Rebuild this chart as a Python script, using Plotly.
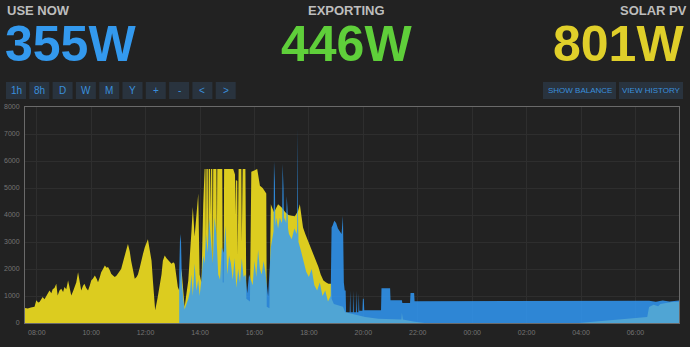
import plotly.graph_objects as go
from datetime import datetime, timedelta

# ---------------- data ----------------
header_labels = ["USE NOW", "EXPORTING", "SOLAR PV"]
header_values = ["355W", "446W", "801W"]
left_buttons = ["1h", "8h", "D", "W", "M", "Y", "+", "-", "<", ">"]
right_buttons = ["SHOW BALANCE", "VIEW HISTORY"]

solar_time = ["07:34","07:40","07:47","07:55","07:59","08:03","08:06","08:10","08:13","08:17","08:21","08:25",
              "08:28","08:32","08:35","08:39","08:43","08:46","08:50","08:54","08:58","09:01","09:05","09:09",
              "09:12","09:16","09:20","09:23","09:27","09:31","09:34","09:38","09:42","09:45","09:49","09:53",
              "09:57","10:00","10:04","10:08","10:12","10:15","10:19","10:22","10:26","10:30","10:34","10:37",
              "10:41","10:44","10:48","10:52","10:56","10:59","11:03","11:06","11:10","11:14","11:18","11:21",
              "11:25","11:28","11:32","11:36","11:40","11:43","11:47","11:50","11:54","11:58","12:02","12:05",
              "12:09","12:13","12:16","12:21","12:26","12:31","12:35","12:38","12:42","12:46","12:49","12:53",
              "12:57","13:01","13:04","13:08","13:11","13:14","13:19","13:26","13:34","13:41","13:44","13:48",
              "13:52","13:56","13:59","14:03","14:07","14:10","14:12","14:13","14:14","14:17","14:18","14:19",
              "14:22","14:23","14:24","14:27","14:28","14:29","14:36","14:37","14:38","14:49","14:50","14:52",
              "14:53","15:13","15:15","15:17","15:18","15:19","15:22","15:23","15:25","15:31","15:32","15:34",
              "15:40","15:42","15:50","15:53","16:06","16:08","16:12","16:18","16:23","16:26","16:27","16:33",
              "16:36","16:38","16:43","16:52","17:00","17:08","17:15","17:22","17:29","17:36","17:40","17:44",
              "17:47","17:52","17:58","18:03","18:09","18:15","18:21","18:26","18:32","18:38","18:43","18:49",
              "18:50","18:55","19:05","19:15","19:20","19:42","20:04","20:33","21:10","21:24","21:25","21:27",
              "21:50","22:15","03:55","06:26","06:30","06:35","06:40","06:45","06:50","06:55","07:00","07:05",
              "07:12","07:20","07:28","07:36"]
solar_w = [560,540,570,600,840,760,780,900,960,880,1000,1120,
           1200,1100,1250,1300,1450,1020,1200,1270,1150,1330,1250,1575,
           1300,1020,1180,1330,1500,1880,1500,1200,1380,1450,1300,1200,
           1400,1575,1650,1760,1640,1510,1700,1880,2000,2130,2050,2070,
           1950,1820,1760,1700,1760,1820,1900,2000,2250,2560,2750,2930,
           2650,2310,1900,1640,1700,1800,2050,2310,2550,2800,2950,3100,
           2700,2310,1575,470,900,1330,1800,2310,2500,2400,2350,2250,
           2190,2250,2190,1700,1330,1200,2000,600,1575,3400,4300,3200,
           3900,4800,1800,1500,4400,5700,5700,3000,5700,5700,2500,5700,
           5700,4000,5700,5700,2000,5700,5700,3000,5700,5700,1500,1500,
           5700,5700,5600,5500,4000,5300,5260,2500,5700,5700,3000,5700,
           5700,900,800,5600,5700,5500,5080,5000,4900,4800,600,550,
           4400,4300,4100,4400,4280,4100,4000,3970,3950,4150,4400,3910,
           3540,3300,3050,2850,2560,2300,2070,1800,1575,1500,1450,1450,
           900,700,650,600,400,320,220,160,120,130,380,130,
           60,0,0,220,590,640,680,650,620,700,720,740,
           760,775,780,790]

use_time = ["13:14","13:16","13:18","13:20","13:23","13:26","13:30","13:34","13:38","13:41","13:44","13:48",
            "13:52","13:56","13:59","14:03","14:07","14:10","14:13","14:17","14:20","14:24","14:28","14:32",
            "14:36","14:40","14:44","14:48","14:52","14:56","15:00","15:04","15:08","15:12","15:16","15:20",
            "15:24","15:28","15:32","15:36","15:40","15:44","15:48","15:52","15:56","16:00","16:04","16:08",
            "16:12","16:16","16:20","16:24","16:30","16:36","16:40","16:42","16:43","16:45","16:46","16:48",
            "16:52","16:56","17:00","17:01","17:02","17:04","17:05","17:06","17:10","17:11","17:13","17:14",
            "17:16","17:22","17:28","17:33","17:34","17:35","17:36","17:37","17:42","17:48","17:54","18:00",
            "18:06","18:12","18:18","18:24","18:30","18:36","18:42","18:48","18:50","18:52","18:56","19:00",
            "19:04","19:08","19:12","19:15","19:17","19:19","19:21","19:22","19:30","19:31","19:32","19:37",
            "19:38","19:39","19:44","19:45","19:46","19:49","19:50","19:51","19:58","19:59","20:01","20:02",
            "20:39","20:40","20:59","21:00","21:25","21:26","21:43","21:44","21:52","21:53","23:00","01:00",
            "03:00","05:00","06:30","06:45","07:00","07:15","07:36"]
use_w = [1800,3300,3000,1500,900,500,700,900,1200,1800,1000,2200,
         1200,1600,1000,1600,2500,2200,3300,2600,3900,3000,2200,3900,
         3300,1800,1600,2800,2600,3600,1800,2500,2200,1600,2400,1300,
         2000,1500,2400,1700,1800,1100,1800,1600,1400,2300,1700,2700,
         2000,1800,2300,1900,1000,2800,3200,3400,6000,5200,3600,3900,
         3500,3900,3700,3800,5900,5000,3800,3900,3700,4700,4200,3500,
         3300,3100,3500,3300,3500,7200,4000,3000,2700,2300,1900,1700,
         2000,1400,1200,1500,1000,1200,800,1000,3540,3600,3790,3700,
         3500,3400,3300,3970,1500,1200,1200,400,400,1200,400,400,
         1200,400,400,1200,400,400,1100,450,450,900,900,470,
         470,1290,1290,840,840,740,740,1110,1110,810,810,810,
         810,810,820,790,830,800,830]

assert len(solar_time) == len(solar_w) and len(use_time) == len(use_w)


def to_dt(times, day0=datetime(2019, 6, 20)):
    out, day, prev = [], 0, None
    for t in times:
        h, m = map(int, t.split(":"))
        mins = h * 60 + m
        if prev is not None and mins < prev:
            day += 1
        prev = mins
        out.append(day0 + timedelta(days=day, minutes=mins))
    return out


# ---------------- figure ----------------
W, H = 690, 347
ML, MR, MT, MB = 25, 11, 107, 24
PW, PH = W - ML - MR, H - MT - MB
BG = "#222222"
FONT = "Liberation Sans, Arial, Helvetica, sans-serif"


def xp(x):
    return (x - ML) / PW


def yp(y):
    return (H - MB - y) / PH


fig = go.Figure()
fig.add_trace(go.Scatter(x=to_dt(solar_time), y=solar_w, mode="lines", line=dict(width=0),
                         fill="tozeroy", fillcolor="#dccc1f", hoverinfo="skip", showlegend=False))
fig.add_trace(go.Scatter(x=to_dt(use_time), y=use_w, mode="lines", line=dict(width=0),
                         fill="tozeroy", fillcolor="rgba(49,156,253,0.82)", hoverinfo="skip",
                         showlegend=False))

ann = []
shapes = []
hdr_x = [(5, "left"), (346.5, "center"), (689, "right")]
val_x = [(3, "left"), (346.5, "center"), (686, "right")]
val_col = ["#3399ee", "#5fcf3a", "#e0cf2a"]
for i in range(3):
    ann.append(dict(text=header_labels[i], x=xp(hdr_x[i][0]), y=yp(9.5), xanchor=hdr_x[i][1],
                    yanchor="middle", height=12, valign="middle",
                    font=dict(family=FONT, size=13, color="#bdbdbd", weight="bold")))
    ann.append(dict(text=header_values[i], x=xp(val_x[i][0]), y=yp(44), xanchor=val_x[i][1],
                    yanchor="middle", height=40, valign="middle",
                    font=dict(family=FONT, size=50, color=val_col[i], weight="bold")))

BTN_FILL = "#29333e"
BTN_TXT = "#3a8fdc"
for i, lab in enumerate(left_buttons):
    x0 = 6 + i * 23.3
    shapes.append(dict(type="rect", xref="paper", yref="paper", x0=xp(x0), x1=xp(x0 + 20),
                       y0=yp(99), y1=yp(82), fillcolor=BTN_FILL, line=dict(width=0), layer="below"))
    ann.append(dict(text=lab, x=xp(x0 + 10), y=yp(90.5), xanchor="center", yanchor="middle",
                    font=dict(family=FONT, size=10, color=BTN_TXT)))
for lab, (x0, x1) in zip(right_buttons, [(543, 616), (619, 683)]):
    shapes.append(dict(type="rect", xref="paper", yref="paper", x0=xp(x0), x1=xp(x1),
                       y0=yp(99), y1=yp(82), fillcolor=BTN_FILL, line=dict(width=0), layer="below"))
    ann.append(dict(text=lab, x=xp((x0 + x1) / 2), y=yp(90.5), xanchor="center", yanchor="middle",
                    font=dict(family=FONT, size=8, color=BTN_TXT)))

for a in ann:
    a.update(xref="paper", yref="paper", showarrow=False)

axis_common = dict(showgrid=True, gridcolor="#2e2e2e", gridwidth=1, showline=True, linecolor="#6a6a6a",
                   linewidth=1, mirror=True, zeroline=False, ticks="", automargin=False,
                   tickfont=dict(family=FONT, size=7, color="#747474"), fixedrange=True)

fig.update_layout(
    width=W, height=H, margin=dict(l=ML, r=MR, t=MT, b=MB, pad=0, autoexpand=False),
    paper_bgcolor=BG, plot_bgcolor=BG,
    annotations=ann, shapes=shapes, showlegend=False,
    xaxis=dict(type="date", range=[datetime(2019, 6, 20, 7, 34), datetime(2019, 6, 21, 7, 36)],
               tick0=datetime(2019, 6, 20, 8, 0), dtick=7200000, tickformat="%H:%M",
               ticklabelstandoff=3, **axis_common),
    yaxis=dict(range=[0, 8000], dtick=1000, tickformat="d", ticklabelstandoff=3, **axis_common),
)

fig.write_html("out.html", config=dict(displayModeBar=False))
